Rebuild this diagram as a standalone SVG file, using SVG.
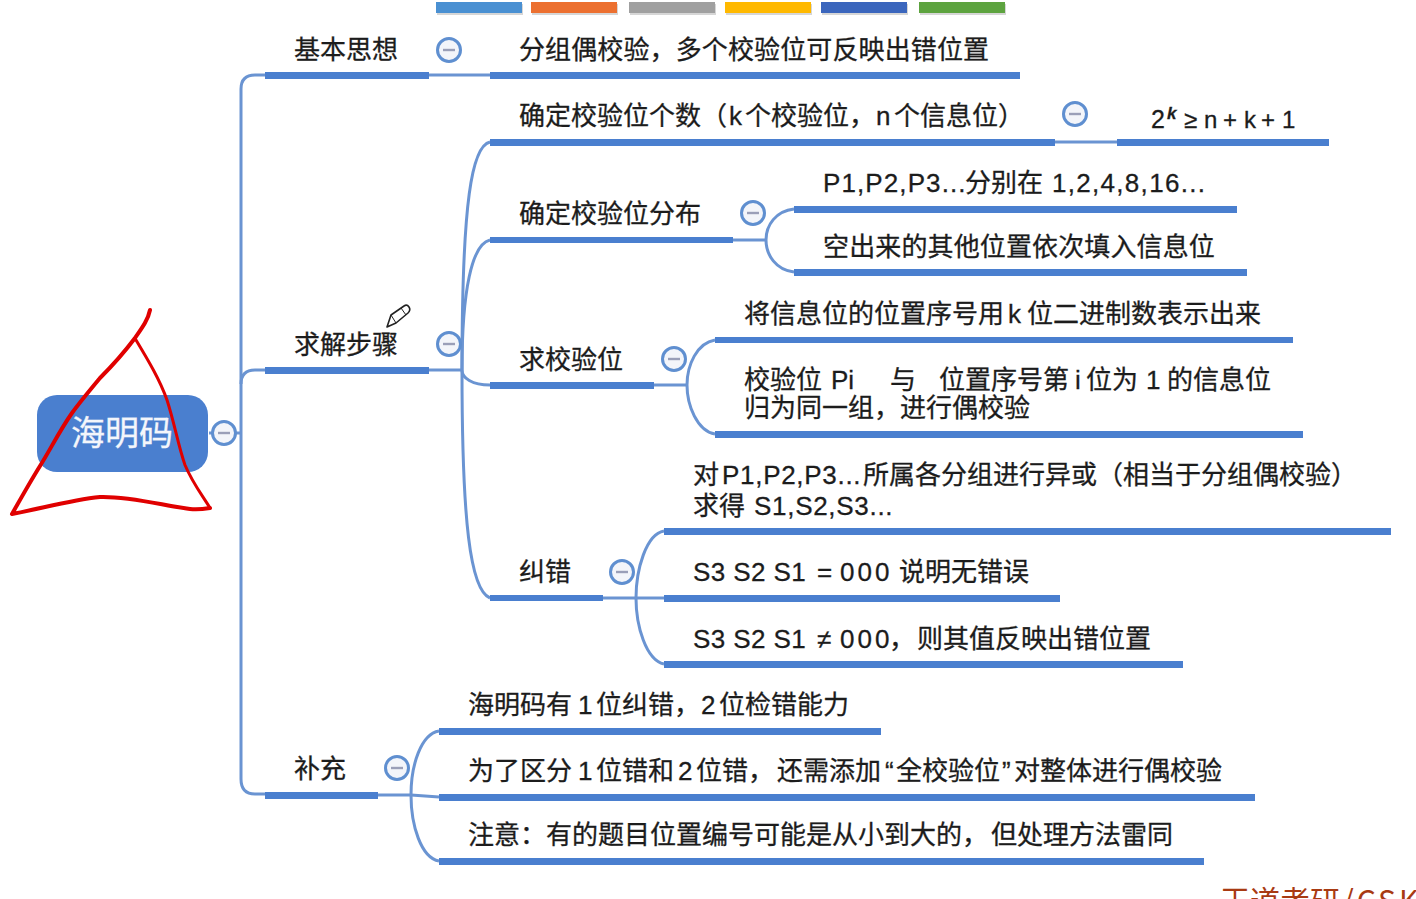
<svg xmlns="http://www.w3.org/2000/svg" width="1416" height="899" viewBox="0 0 1416 899">
<style>
text{font-family:"Liberation Sans","Noto Sans CJK SC",sans-serif;font-size:26px;fill:#1c1c1c;stroke:#1c1c1c;stroke-width:.3}
.cjk{font-family:"Noto Sans CJK SC",sans-serif}
.bar{fill:#4a7fcf}
.c{fill:none;stroke:#6a94d2;stroke-width:3}
.t circle{fill:#f3f5fa;stroke:#5f8fd0;stroke-width:3}
.t rect{fill:#9a9fb8}
.ink{fill:none;stroke:#e00000;stroke-linecap:round;stroke-linejoin:round}
.sp{letter-spacing:1.1px}
</style>
<defs>
<g id="tg" class="t"><circle r="11.5"/><rect x="-6" y="-1.2" width="12" height="2.4"/></g>
</defs>
<rect width="1416" height="899" fill="#fff"/>
<g id="palette">
<rect x="437" y="4" width="86" height="11" fill="#bbb" opacity=".6"/>
<rect x="532" y="4" width="86" height="11" fill="#bbb" opacity=".6"/>
<rect x="630" y="4" width="86" height="11" fill="#bbb" opacity=".6"/>
<rect x="726" y="4" width="86" height="11" fill="#bbb" opacity=".6"/>
<rect x="822" y="4" width="86" height="11" fill="#bbb" opacity=".6"/>
<rect x="920" y="4" width="86" height="11" fill="#bbb" opacity=".6"/>
<rect x="436" y="2" width="86" height="11" fill="#4a90d2"/>
<rect x="531" y="2" width="86" height="11" fill="#ec7030"/>
<rect x="629" y="2" width="86" height="11" fill="#a0a0a0"/>
<rect x="725" y="2" width="86" height="11" fill="#ffb900"/>
<rect x="821" y="2" width="86" height="11" fill="#3b66bd"/>
<rect x="919" y="2" width="86" height="11" fill="#5da33f"/>
</g>
<g id="connectors">
<path class="c" d="M209 433H241"/>
<path class="c" d="M265 75H255Q241 75 241 89V779Q241 794 255 794H265"/>
<path class="c" d="M241 384Q241 370 255 370H265"/>
<path class="c" d="M429 75H490"/>
<path class="c" d="M429 370H462"/>
<path class="c" d="M490 142C472 146 462 200 462 370C462 520 470 590 490 598"/>
<path class="c" d="M490 240C472 244 462 290 462 370C462 378 472 385 490 385"/>
<path class="c" d="M1055 142H1117"/>
<path class="c" d="M733 240H766"/>
<path class="c" d="M794 209C776 211 766 225 766 240C766 255 776 270 794 272"/>
<path class="c" d="M654 385H687"/>
<path class="c" d="M715 340C697 343 687 365 687 385C687 405 697 431 715 434"/>
<path class="c" d="M603 598H636"/>
<path class="c" d="M664 531C646 534 636 570 636 598C636 626 646 660 664 664"/>
<path class="c" d="M636 598H664"/>
<path class="c" d="M378 795H411"/>
<path class="c" d="M439 731C421 734 411 765 411 795C411 825 421 858 439 861"/>
<path class="c" d="M411 795L439 797"/>
</g>
<g id="bars" class="bar">
<rect x="265" y="72" width="164" height="7"/>
<rect x="265" y="367" width="164" height="7"/>
<rect x="265" y="792" width="113" height="7"/>
<rect x="490" y="72" width="530" height="7"/>
<rect x="490" y="139" width="565" height="7"/>
<rect x="1117" y="139" width="212" height="7"/>
<rect x="490" y="237" width="243" height="6"/>
<rect x="794" y="206" width="443" height="7"/>
<rect x="794" y="269" width="453" height="7"/>
<rect x="490" y="382" width="164" height="7"/>
<rect x="715" y="337" width="578" height="6"/>
<rect x="715" y="431" width="588" height="7"/>
<rect x="490" y="595" width="113" height="6"/>
<rect x="664" y="528" width="727" height="7"/>
<rect x="664" y="595" width="396" height="7"/>
<rect x="664" y="661" width="519" height="7"/>
<rect x="439" y="728" width="442" height="7"/>
<rect x="439" y="794" width="816" height="7"/>
<rect x="439" y="858" width="765" height="7"/>
</g>
<g id="root"><rect x="37" y="395" width="171" height="77" rx="20" fill="#4a7fcf"/>
<text x="71" y="445" class="cjk" style="font-size:34px;fill:#f4f6fb;stroke:#f4f6fb">海明码</text></g>
<use href="#tg" x="224" y="433"/>
<g id="n1"><text x="294" y="59" class="cjk">基本思想</text><use href="#tg" x="449" y="50"/></g>
<g id="n1a"><text x="519" y="59" class="cjk" letter-spacing=".12">分组偶校验，多个校验位可反映出错位置</text></g>
<g id="n2"><text x="294" y="354" class="cjk">求解步骤</text><use href="#tg" x="449" y="344"/></g>
<g id="n2a"><text y="125"><tspan x="519">确定校验位个数（</tspan><tspan x="729">k</tspan><tspan x="745">个校验位，</tspan><tspan x="876">n</tspan><tspan x="894">个信息位）</tspan></text><use href="#tg" x="1075" y="114"/></g>
<g id="n2a1"><text x="1151" y="128" style="font-size:25px">2</text><text x="1167" y="119" style="font-size:17px;font-style:italic;font-weight:bold">k</text><text y="128" style="font-size:24px"><tspan x="1184">≥</tspan><tspan x="1204">n</tspan><tspan x="1223">+</tspan><tspan x="1244">k</tspan><tspan x="1261">+</tspan><tspan x="1282">1</tspan></text></g>
<g id="n2b"><text x="519" y="223" class="cjk">确定校验位分布</text><use href="#tg" x="753" y="213"/></g>
<g id="n2b1"><text y="192"><tspan x="823" class="sp">P1,P2,P3...</tspan><tspan x="965">分别在</tspan><tspan x="1052" letter-spacing="1.3">1,2,4,8,16...</tspan></text></g>
<g id="n2b2"><text x="823" y="256" class="cjk" letter-spacing=".13">空出来的其他位置依次填入信息位</text></g>
<g id="n2c"><text x="519" y="369" class="cjk">求校验位</text><use href="#tg" x="674" y="359"/></g>
<g id="n2c1"><text y="323"><tspan x="744">将信息位的位置序号用</tspan><tspan x="1008">k</tspan><tspan x="1027">位二进制数表示出来</tspan></text></g>
<g id="n2c2"><text y="389"><tspan x="744">校验位</tspan><tspan x="831">Pi</tspan><tspan x="890">与</tspan><tspan x="939">位置序号第</tspan><tspan x="1075">i</tspan><tspan x="1086">位为</tspan><tspan x="1146">1</tspan><tspan x="1167">的信息位</tspan></text><text x="744" y="417" class="cjk">归为同一组，进行偶校验</text></g>
<g id="n2d"><text x="519" y="581" class="cjk">纠错</text><use href="#tg" x="622" y="572"/></g>
<g id="n2d1"><text y="484"><tspan x="693">对</tspan><tspan x="722" letter-spacing=".7">P1,P2,P3...</tspan><tspan x="863">所属各分组进行异或（相当于分组偶校验）</tspan></text><text y="515"><tspan x="693">求得</tspan><tspan x="754" letter-spacing=".7">S1,S2,S3...</tspan></text></g>
<g id="n2d2"><text y="581"><tspan x="693" letter-spacing=".4">S3 S2 S1</tspan><tspan x="817">=</tspan><tspan x="840" letter-spacing="3">000</tspan><tspan x="899">说明无错误</tspan></text></g>
<g id="n2d3"><text y="648"><tspan x="693" letter-spacing=".4">S3 S2 S1</tspan><tspan x="817">≠</tspan><tspan x="840" letter-spacing="3">000</tspan><tspan x="889">，</tspan><tspan x="917">则其值反映出错位置</tspan></text></g>
<g id="n3"><text x="294" y="778" class="cjk">补充</text><use href="#tg" x="397" y="768"/></g>
<g id="n3a"><text y="714"><tspan x="468">海明码有</tspan><tspan x="578">1</tspan><tspan x="596">位纠错，</tspan><tspan x="701">2</tspan><tspan x="719">位检错能力</tspan></text></g>
<g id="n3b"><text y="780"><tspan x="468">为了区分</tspan><tspan x="578">1</tspan><tspan x="596">位错和</tspan><tspan x="678">2</tspan><tspan x="696">位错，</tspan><tspan x="777">还需添加</tspan><tspan x="885">“</tspan><tspan x="896">全校验位</tspan><tspan x="1002">”</tspan><tspan x="1014">对整体进行偶校验</tspan></text></g>
<g id="n3c"><text y="844"><tspan x="468">注意：有的题目位置编号可能是从小到大的，</tspan><tspan x="991">但处理方法雷同</tspan></text></g>
<g id="ink">
<path class="ink" stroke-width="4" d="M150 310C148 320 142 328 135 338C120 358 108 370 100 378C90 390 80 402 72 413C60 430 50 450 40 466C30 482 20 500 12 514C40 509 70 500 100 497C130 496 165 506 190 509C198 510 204 509 210 508"/>
<path class="ink" stroke-width="3" d="M136 340C148 360 160 380 167 400C175 425 178 445 185 465C192 482 202 495 210 508"/>
</g>
<g id="pencil"><path d="M387 327L391 315L404 306Q407 304 409 307Q411 310 408 313L396 323Z" fill="#fff" stroke="#222" stroke-width="1.6" stroke-linejoin="round"/><path d="M401 308L406 315M391 315L396 323" fill="none" stroke="#222" stroke-width="1"/></g>
<text y="912" class="cjk" style="font-size:30px;fill:#a83a12;stroke:none"><tspan x="1220">王道考研</tspan><tspan x="1342" letter-spacing="3">/CSK</tspan></text>
</svg>
